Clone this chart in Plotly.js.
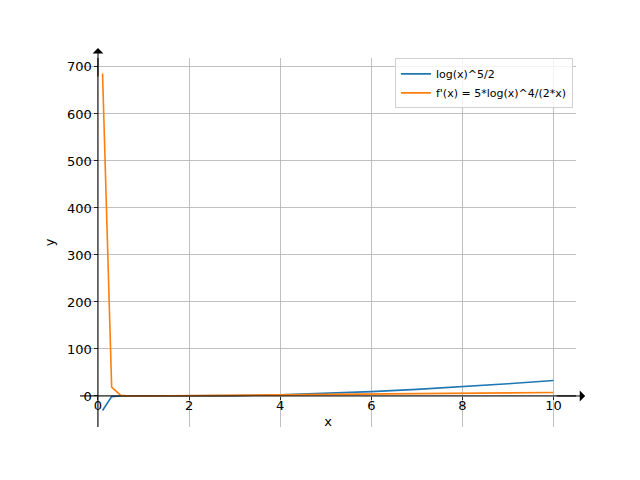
<!DOCTYPE html>
<html>
<head>
<meta charset="utf-8">
<script src="https://cdn.plot.ly/plotly-3.0.1.min.js"></script>
<style>html,body{margin:0;padding:0;background:#fff;}#chart{width:640px;height:480px;}</style>
</head>
<body>
<div id="chart"></div>
<script>
// values
const xValues = [0.1, 0.3, 0.5, 0.7, 1, 2, 3, 4, 5, 6, 7, 8, 9, 10];
const fValues = [-31, -1.3, -0.08, 0, 0, 0.08, 0.8, 2.6, 5.4, 9.3, 14, 19.8, 26, 33];
const dfValues = [686, 19, 1.2, 0.06, 0, 0.3, 1.2, 2.3, 3.4, 4.3, 5.1, 5.9, 6.6, 7.3];
const seriesNames = ["log(x)^5/2", "f'(x) = 5*log(x)^4/(2*x)"];
const xTicks = [0, 2, 4, 6, 8, 10];
const yTicks = [0, 100, 200, 300, 400, 500, 600, 700];

const xRange = [-0.395, 10.495];
const yRange = [-66, 719];

const font = {family: "DejaVu Sans, sans-serif", size: 13, color: "#000"};

const traces = [
  {x: xValues, y: fValues, name: seriesNames[0], type: "scatter", mode: "lines",
   line: {color: "#1f77b4", width: 1.6}},
  {x: xValues, y: dfValues, name: seriesNames[1], type: "scatter", mode: "lines",
   line: {color: "#ff7f0e", width: 1.6}}
];

const xPos = (0 - yRange[0]) / (yRange[1] - yRange[0]);
const yPos = (0 - xRange[0]) / (xRange[1] - xRange[0]);

const layout = {
  width: 640, height: 480,
  margin: {l: 80, r: 64, t: 58, b: 53, pad: 0},
  paper_bgcolor: "#fff", plot_bgcolor: "#fff",
  font: font,
  showlegend: true,
  legend: {x: 0.635, y: 0.999, xanchor: "left", yanchor: "top",
    bgcolor: "rgba(255,255,255,0.8)", bordercolor: "#d0d0d0", borderwidth: 1,
    font: {family: "DejaVu Sans, sans-serif", size: 11, color: "#000"},
    itemwidth: 30, tracegroupgap: 0},
  xaxis: {range: xRange, tickvals: xTicks, ticktext: xTicks.map(String),
    anchor: "free", position: xPos,
    showgrid: true, gridcolor: "#b0b0b0", gridwidth: 0.8,
    zeroline: false, showline: false,
    ticks: "outside", ticklen: 3.5, tickwidth: 0.8, tickcolor: "#000",
    ticklabelstandoff: -6,
    tickfont: font,
    title: {text: "x", font: font, standoff: 4}},
  yaxis: {range: yRange, tickvals: yTicks, ticktext: yTicks.map(String),
    anchor: "free", position: yPos,
    showgrid: true, gridcolor: "#b0b0b0", gridwidth: 0.8,
    zeroline: false, showline: false,
    ticks: "outside", ticklen: 3.5, tickwidth: 0.8, tickcolor: "#000",
    tickfont: font,
    title: {text: "y", font: font, standoff: 8}},
  shapes: [
    {type: "line", xref: "x", yref: "paper", x0: 0, x1: 0, y0: 0, y1: 1,
     line: {color: "#000", width: 1}, layer: "above"},
    {type: "line", xref: "paper", yref: "y", x0: 0, x1: 1, y0: 0, y1: 0,
     line: {color: "#000", width: 1}, layer: "above"}
  ],
  annotations: [
    {xref: "paper", yref: "y", x: 1.0185, y: 0, ax: -30, ay: 0, text: "",
     showarrow: true, arrowhead: 1, arrowsize: 1.8, arrowwidth: 1, arrowcolor: "#000"},
    {xref: "x", yref: "paper", x: 0, y: 1.027, ax: 0, ay: 30, text: "",
     showarrow: true, arrowhead: 1, arrowsize: 1.8, arrowwidth: 1, arrowcolor: "#000"}
  ]
};

Plotly.newPlot("chart", traces, layout, {displayModeBar: false, staticPlot: true});
</script>
</body>
</html>
